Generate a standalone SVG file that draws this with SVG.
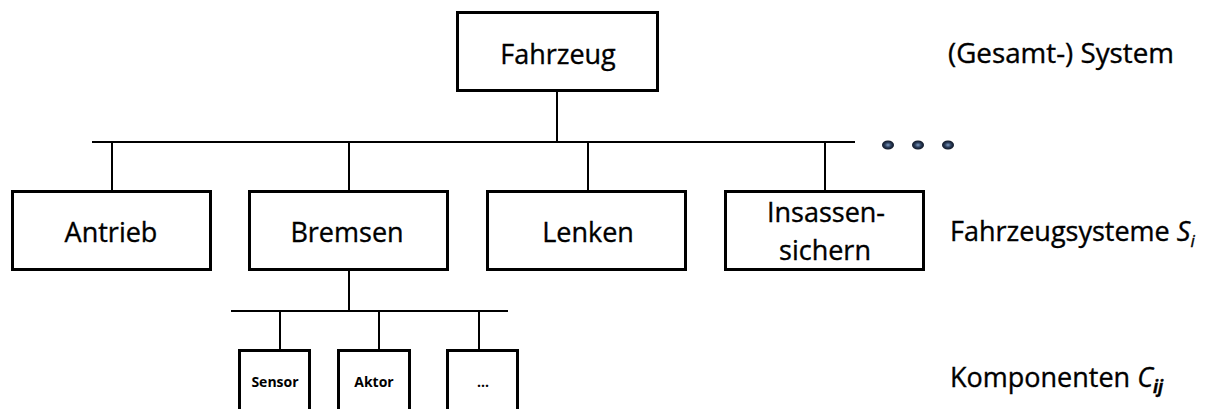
<svg xmlns="http://www.w3.org/2000/svg" width="1206" height="409" viewBox="0 0 1206 409">
<style>
.box{fill:#fff;stroke:#000;stroke-width:3}
.sbox{fill:#fff;stroke:#000;stroke-width:3}
.ln{stroke:#000;stroke-width:2;fill:none}
.lbl{font-family:"Open Sans","Liberation Sans",sans-serif;font-size:27px;fill:#000;stroke:#000;stroke-width:0.35;text-anchor:middle}
.side{font-family:"Open Sans","Liberation Sans",sans-serif;font-size:27px;fill:#000;stroke:#000;stroke-width:0.35}
.sm{font-family:"Open Sans","Liberation Sans",sans-serif;font-size:14px;font-weight:bold;fill:#000;text-anchor:middle}
</style>
<defs>
<radialGradient id="dotg" cx="50%" cy="50%" r="50%">
<stop offset="0" stop-color="#7e9cc2"/>
<stop offset="0.5" stop-color="#2d3f5c"/>
<stop offset="1" stop-color="#0c1424"/>
</radialGradient>
</defs>
<rect width="1206" height="409" fill="#fff"/>
<g id="connectors">
<line class="ln" x1="557" y1="91" x2="557" y2="142"/>
<line class="ln" x1="92" y1="142" x2="855" y2="142"/>
<line class="ln" x1="112" y1="142" x2="112" y2="191"/>
<line class="ln" x1="349" y1="142" x2="349" y2="191"/>
<line class="ln" x1="588" y1="142" x2="588" y2="191"/>
<line class="ln" x1="825" y1="142" x2="825" y2="191"/>
<line class="ln" x1="349" y1="270" x2="349" y2="311"/>
<line class="ln" x1="231" y1="311" x2="508" y2="311"/>
<line class="ln" x1="280" y1="311" x2="280" y2="350"/>
<line class="ln" x1="379" y1="311" x2="379" y2="350"/>
<line class="ln" x1="479" y1="311" x2="479" y2="350"/>
<ellipse cx="888" cy="145" rx="6" ry="4.5" fill="url(#dotg)"/>
<ellipse cx="918" cy="145" rx="6" ry="4.5" fill="url(#dotg)"/>
<ellipse cx="948" cy="145" rx="6" ry="4.5" fill="url(#dotg)"/>
</g>
<g id="fahrzeug">
<rect class="box" x="457.5" y="12.5" width="200" height="78"/>
<text class="lbl" x="558" y="64">Fahrzeug</text>
</g>
<g id="antrieb">
<rect class="box" x="12.5" y="191.5" width="198" height="78"/>
<text class="lbl" x="111" y="242">Antrieb</text>
</g>
<g id="bremsen">
<rect class="box" x="249.5" y="191.5" width="198" height="78"/>
<text class="lbl" x="347" y="242">Bremsen</text>
</g>
<g id="lenken">
<rect class="box" x="487.5" y="191.5" width="198" height="78"/>
<text class="lbl" x="588" y="242">Lenken</text>
</g>
<g id="insassen">
<rect class="box" x="725.5" y="191.5" width="198" height="78"/>
<text class="lbl" x="826" y="222">Insassen-</text>
<text class="lbl" x="825" y="260">sichern</text>
</g>
<g id="sensor">
<rect class="sbox" x="239.5" y="350.5" width="70" height="62"/>
<text class="sm" x="275" y="387">Sensor</text>
</g>
<g id="aktor">
<rect class="sbox" x="338.5" y="350.5" width="71" height="62"/>
<text class="sm" x="374" y="387">Aktor</text>
</g>
<g id="more">
<rect class="sbox" x="447.5" y="350.5" width="70" height="62"/>
<text class="sm" x="483" y="387">...</text>
</g>
<g id="labels">
<text class="side" x="948" y="63" textLength="226" lengthAdjust="spacingAndGlyphs">(Gesamt-) System</text>
<text class="side" x="950" y="241">Fahrzeugsysteme <tspan font-style="italic">S</tspan><tspan font-style="italic" font-size="17" dy="6">i</tspan></text>
<text class="side" x="950" y="387">Komponenten <tspan font-style="italic">C</tspan><tspan font-style="italic" font-weight="bold" font-size="17" dy="6">ij</tspan></text>
</g>
</svg>
